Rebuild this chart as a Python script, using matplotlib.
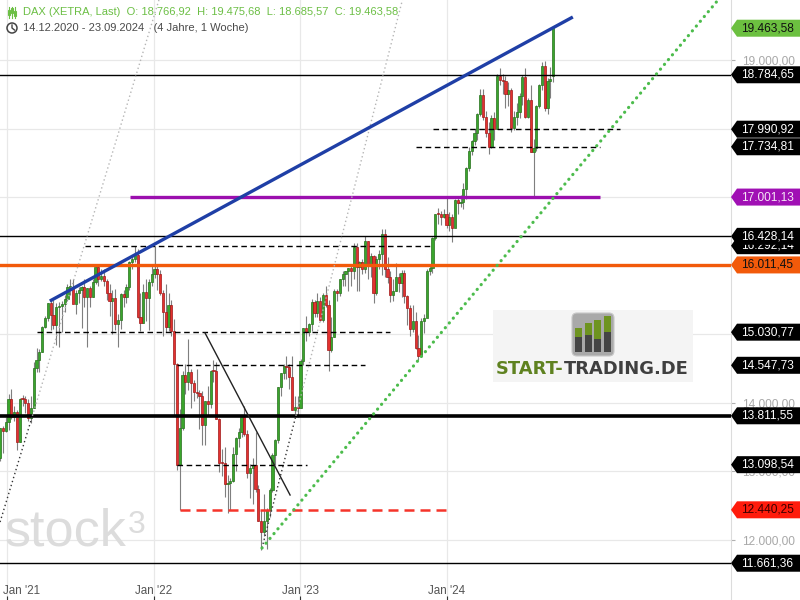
import numpy as np
import pandas as pd
import matplotlib
matplotlib.use('Agg')
import matplotlib.pyplot as plt
from matplotlib.patches import Polygon, Rectangle, Circle, FancyBboxPatch
from matplotlib.transforms import ScaledTranslation

plt.rcParams['font.family'] = ['Liberation Sans', 'DejaVu Sans']

# weekly DAX candles, 14.12.2020 - 23.09.2024
weeks = pd.date_range('2020-12-14', periods=198, freq='W-MON')
opens = [
    13200, 13630, 13587, 13719, 14050, 13788, 13873, 13432, 14056, 14050,
    13993, 13786, 13920, 14502, 14621, 14748, 15107, 15234, 15459, 15280,
    15136, 15400, 15416, 15437, 15520, 15692, 15693, 15448, 15607, 15650,
    15687, 15540, 15669, 15544, 15761, 15977, 15808, 15852, 15781, 15609,
    15490, 15531, 15156, 15206, 15587, 15543, 15688, 16054, 16094, 16160,
    15257, 15169, 15621, 15531, 15756, 15885, 15948, 15883, 15603, 15318,
    15100, 15425, 15042, 14567, 13094, 13628, 14413, 14306, 14446, 14283,
    14163, 14142, 14098, 13674, 14027, 13982, 14462, 14460, 13762, 13126,
    13118, 12813, 12833, 12864, 13254, 13484, 13573, 13795, 13544, 12971,
    13050, 13088, 12741, 12284, 12114, 12273, 12438, 12731, 13243, 13460,
    14224, 14431, 14541, 14529, 14371, 13893, 13940, 13924, 14610, 15086,
    15033, 15150, 15476, 15307, 15482, 15210, 15578, 15427, 14768, 14957,
    15629, 15598, 15807, 15882, 15922, 15961, 15918, 16275, 15984, 16051,
    15950, 16358, 15989, 16148, 15603, 16105, 16177, 16469, 15952, 15832,
    15575, 15632, 15840, 15741, 15893, 15558, 15387, 15070, 15187, 14798,
    14688, 15189, 15234, 15919, 15968, 16398, 16759, 16751, 16706, 16752,
    16594, 16705, 16555, 16961, 16918, 16926, 17117, 17419, 17678, 17814,
    17936, 18206, 18492, 18175, 17930, 17737, 18161, 18001, 18772, 18704,
    18693, 18498, 18557, 18002, 18164, 18235, 18475, 18748, 18171, 18418,
    17661, 17723, 18322, 18633, 18907, 18301, 18700, 18767]
highs = [
    13640, 13660, 13800, 14131, 14200, 13950, 13900, 14070, 14120, 14100,
    14050, 14100, 14600, 14800, 14790, 15120, 15270, 15460, 15500, 15500,
    15460, 15470, 15480, 15570, 15730, 15800, 15800, 15650, 15690, 15700,
    15810, 15670, 15700, 15810, 15980, 16030, 15950, 15950, 15810, 15740,
    15650, 15660, 15300, 15600, 15640, 15730, 16070, 16140, 16290, 16250,
    15600, 15740, 15800, 15800, 16000, 16285, 16000, 15940, 15640, 15740,
    15600, 15500, 15220, 14580, 13910, 14460, 14560, 14925, 14500, 14340,
    14500, 14190, 14170, 14030, 14250, 14480, 14630, 14590, 13780, 13330,
    13350, 12950, 12900, 13360, 13500, 13640, 13800, 13950, 13600, 13110,
    13190, 13570, 12800, 12440, 12670, 12470, 12760, 13270, 13470, 14230,
    14430, 14560, 14680, 14560, 14680, 14100, 14100, 14640, 15090, 15270,
    15170, 15520, 15500, 15600, 15540, 15600, 15710, 15500, 15250, 15660,
    15660, 15810, 15920, 15930, 15970, 15990, 16330, 16330, 16070, 16100,
    16430, 16360, 16180, 16160, 16140, 16230, 16530, 16530, 16120, 15930,
    15800, 16040, 15900, 15940, 15940, 15570, 15420, 15420, 15330, 14990,
    15240, 15300, 15950, 16030, 16420, 16760, 16840, 16800, 16820, 17000,
    16790, 16750, 16980, 17010, 17030, 17200, 17440, 17730, 17840, 18000,
    18230, 18570, 18570, 18250, 18100, 18200, 18240, 18790, 18890, 18790,
    18770, 18680, 18590, 18260, 18370, 18520, 18780, 18890, 18450, 18630,
    17850, 18350, 18650, 18970, 18990, 18740, 18900, 19476]
lows = [
    13150, 13270, 13580, 13600, 13770, 13740, 13310, 13430, 13950, 13850,
    13730, 13700, 13920, 14450, 14450, 14740, 15090, 15190, 15060, 15070,
    14850, 14820, 15030, 15330, 15480, 15570, 15450, 15290, 15450, 15090,
    15400, 14820, 15400, 15540, 15740, 15700, 15780, 15700, 15500, 15260,
    15000, 15060, 14820, 15080, 15400, 15450, 15650, 15950, 16060, 15240,
    15050, 15160, 15200, 15060, 15700, 15820, 15650, 15580, 14980, 15040,
    15050, 14980, 13810, 13020, 12439, 13600, 14130, 14190, 13930, 14030,
    14070, 13620, 13380, 13380, 13830, 13920, 14310, 13760, 12990, 12940,
    12620, 12390, 12440, 12840, 13010, 13360, 13500, 13520, 12900, 12610,
    12530, 12700, 12270, 11860, 12060, 11870, 12340, 12700, 13100, 13420,
    14100, 14350, 14350, 14200, 13890, 13790, 13790, 13930, 14550, 14900,
    14980, 15050, 15250, 15250, 15200, 15180, 15400, 14460, 14740, 14960,
    15480, 15560, 15700, 15710, 15630, 15710, 15800, 15630, 15630, 15880,
    15900, 15810, 15830, 15460, 15580, 15950, 15870, 15840, 15750, 15470,
    15480, 15630, 15610, 15550, 15460, 15140, 14980, 15030, 14790, 14630,
    14670, 15020, 15260, 15860, 15900, 16370, 16610, 16600, 16690, 16550,
    16500, 16350, 16560, 16750, 16850, 16820, 16980, 17380, 17610, 17760,
    17830, 18190, 18130, 17880, 17630, 17720, 17840, 17990, 18640, 18500,
    18300, 18330, 17950, 17980, 18050, 18160, 18340, 18150, 18160, 17660,
    17020, 17670, 18300, 18560, 18260, 18210, 18450, 18686]
closes = [
    13630, 13587, 13719, 14050, 13788, 13873, 13432, 14056, 14050, 13993,
    13786, 13920, 14502, 14621, 14748, 15107, 15234, 15459, 15280, 15136,
    15400, 15416, 15437, 15520, 15692, 15693, 15448, 15607, 15650, 15687,
    15540, 15669, 15544, 15761, 15977, 15808, 15852, 15781, 15609, 15490,
    15531, 15156, 15206, 15587, 15543, 15688, 16054, 16094, 16160, 15257,
    15169, 15621, 15531, 15756, 15885, 15948, 15883, 15603, 15318, 15100,
    15425, 15042, 14567, 13094, 13628, 14413, 14306, 14446, 14283, 14163,
    14142, 14098, 13674, 14027, 13982, 14462, 14460, 13762, 13126, 13118,
    12813, 12833, 12864, 13254, 13484, 13573, 13795, 13544, 12971, 13050,
    13088, 12741, 12284, 12114, 12273, 12438, 12731, 13243, 13460, 14224,
    14431, 14541, 14529, 14371, 13893, 13940, 13924, 14610, 15086, 15033,
    15150, 15476, 15307, 15482, 15210, 15578, 15427, 14768, 14957, 15629,
    15598, 15807, 15882, 15922, 15961, 15918, 16275, 15984, 16051, 15950,
    16358, 15989, 16148, 15603, 16105, 16177, 16469, 15952, 15832, 15575,
    15632, 15840, 15741, 15893, 15558, 15387, 15070, 15187, 14798, 14688,
    15189, 15234, 15919, 15968, 16398, 16759, 16751, 16706, 16752, 16594,
    16705, 16555, 16961, 16918, 16926, 17117, 17419, 17678, 17814, 17936,
    18206, 18492, 18175, 17930, 17737, 18161, 18001, 18772, 18704, 18693,
    18498, 18557, 18002, 18164, 18235, 18475, 18748, 18171, 18418, 17661,
    17723, 18322, 18633, 18907, 18301, 18700, 18720, 19464]

# horizontal levels: value, start, end (None = full width)
full_levels = [18784.65, 16428.14, 11661.36]
thick_level = 13811.55
orange_level = 16011.45
purple_level = (17001.13, '2021-11-03', '2025-01-17')
dashed_levels = [
    (17990.92, '2023-11-28', '2025-03-08'),
    (17734.81, '2023-10-17', '2025-01-17'),
    (16292.14, '2021-07-14', '2023-11-20'),
    (15030.77, '2021-03-16', '2023-08-12'),
    (14547.73, '2022-02-27', '2023-06-11'),
    (13098.54, '2022-02-27', '2023-01-18'),
]
red_level = (12440.25, '2022-03-07', '2024-01-02')

# trend lines: (date, value) end points
blue_trend = [('2021-04-17', 15485), ('2024-11-11', 19627)]
green_trend = [('2022-09-28', 11883), ('2025-11-08', 19875)]
black_trend = [('2022-05-09', 15019), ('2022-12-07', 12656)]
dotted_a = [('2020-12-14', 12262), ('2022-01-14', 19875)]
dotted_b = [('2022-09-28', 11883), ('2023-09-13', 19875)]

last_close = 19463.58
header = 'DAX (XETRA, Last)  O: 18.766,92  H: 19.475,68  L: 18.685,57  C: 19.463,58'
period = '14.12.2020 - 23.09.2024   (4 Jahre, 1 Woche)'
year_ticks = ['2021-01-01', '2022-01-01', '2023-01-01', '2024-01-01']
year_labels = ["Jan '21", "Jan '22", "Jan '23", "Jan '24"]
# axis labels that are not hidden behind a price tag
price_ticks = [12000, 13000, 14000, 19000]

ORIGIN = pd.Timestamp('2021-01-01')
Y0, Y1 = 11125, 19875


def d(s):
    return (pd.Timestamp(s) - ORIGIN).days


def de(v):
    return f'{v:,.2f}'.replace(',', 'X').replace('.', ',').replace('X', '.')


fig = plt.figure(figsize=(8, 6), dpi=100)
ax = fig.add_axes([0, 0, 731 / 800, 1])
ax.set_xlim(-18.2, 1804.3)
ax.set_ylim(Y0, Y1)

# grid / axes
ax.set_yticks(range(12000, 20000, 1000))
ax.set_yticklabels([de(v) if v in price_ticks else '' for v in range(12000, 20000, 1000)])
ax.yaxis.tick_right()
ax.tick_params(axis='y', length=3, color='#b0b0b0', labelcolor='#a8a8a8', labelsize=8.6, pad=5)
ax.set_xticks([d(s) for s in year_ticks])
ax.set_xticklabels(year_labels)
ax.tick_params(axis='x', direction='in', length=3, color='#333333', labelcolor='#555555',
               labelsize=8.4, pad=-10.5)
lab0 = ax.get_xticklabels()[0]
lab0.set_ha('left')
lab0.set_transform(lab0.get_transform() + ScaledTranslation(-0.04, 0, fig.dpi_scale_trans))
ax.grid(color='#e8e8e8', lw=0.9, zorder=0)
ax.set_axisbelow(True)
for s in ['top', 'left', 'bottom']:
    ax.spines[s].set_visible(False)
ax.spines['right'].set_color('#dcdcdc')

# candles
x = np.array([d(w) for w in weeks])
o, h, l, c = map(np.array, (opens, highs, lows, closes))
up = c >= o
ax.vlines(x, l, h, color='#7f7f7f', lw=0.8, zorder=2)
ax.bar(x[up], np.maximum(c - o, 15)[up], bottom=o[up], width=5.5,
       color='#3aa52c', edgecolor='#26701c', lw=0.5, zorder=3)
ax.bar(x[~up], np.maximum(o - c, 15)[~up], bottom=c[~up], width=5.5,
       color='#e3312f', edgecolor='#a01818', lw=0.5, zorder=3)

# levels
for v in full_levels:
    ax.axhline(v, color='black', lw=1.0, zorder=4)
ax.axhline(thick_level, color='black', lw=2.6, zorder=4)
ax.axhline(orange_level, color='#f25a0a', lw=2.4, zorder=4)
v, a, b = purple_level
ax.hlines(v, d(a), d(b), color='#9b0fae', lw=2.4, zorder=4)
for v, a, b in dashed_levels:
    ax.hlines(v, d(a), d(b), color='black', lw=1.0, linestyles=(0, (4, 2.6)), zorder=4)
v, a, b = red_level
ax.hlines(v, d(a), d(b), color='#f5342a', lw=1.8, linestyles=(0, (4, 2.4)), zorder=4)


# trend lines
def seg(pts):
    return [d(p[0]) for p in pts], [p[1] for p in pts]


ax.plot(*seg(blue_trend), color='#1f3fa6', lw=2.4, solid_capstyle='butt', zorder=5)
ax.plot(*seg(green_trend), color='#4cbc4c', lw=2.3, linestyle=(0, (0.05, 1.9)),
        dash_capstyle='round', zorder=5)
ax.plot(*seg(black_trend), color='#222222', lw=1.0, zorder=5)
for pts in (dotted_a, dotted_b):
    xs, ys = seg(pts)
    t = (thick_level - ys[0]) / (ys[1] - ys[0])
    xm = xs[0] + t * (xs[1] - xs[0])
    ax.plot([xs[0], xm], [ys[0], thick_level], color='#333333', lw=1.0,
            linestyle=(0, (1, 2)), zorder=4)
    ax.plot([xm, xs[1]], [thick_level, ys[1]], color='#b5b5b5', lw=1.0,
            linestyle=(0, (1, 2)), zorder=4)

# watermark stock3
fig.text(5 / 800, 1 - 545 / 600, 'stock', fontsize=37.5, color='#dcdcdc', va='baseline', zorder=1)
fig.text(128 / 800, 1 - 533 / 600, '3', fontsize=23, color='#dcdcdc', va='baseline', zorder=1)

# START-TRADING.DE logo
tr = fig.dpi_scale_trans


def P(px, py):
    return px / 100, (600 - py) / 100


fig.add_artist(Rectangle(P(493, 382), 2.0, 0.72, transform=tr, fc='#f4f4f4', ec='none', zorder=2))
fig.add_artist(FancyBboxPatch(P(573, 355), 0.40, 0.41, boxstyle='round,pad=0.01,rounding_size=0.05',
                              transform=tr, fc='#a9a9a9', ec='#c8c8c8', lw=0.8, zorder=2.1))
bar_x = [575, 585, 594, 604]
bar_top = [328, 323, 320, 316]
bar_mid = [337, 335, 339, 332]
for bx, bt, bm in zip(bar_x, bar_top, bar_mid):
    fig.add_artist(Rectangle(P(bx, 352), 0.07, (352 - bt) / 100, transform=tr, fc='#6e9420',
                             ec='none', zorder=2.2))
    fig.add_artist(Rectangle(P(bx, 352), 0.07, (352 - bm) / 100, transform=tr, fc='#454545',
                             ec='none', zorder=2.3))
t1 = fig.text(496 / 800, 1 - 369 / 600, 'START-', fontsize=12.9, fontweight='bold',
              family='DejaVu Sans', color='#5f8220', va='center', zorder=3)
fig.canvas.draw()
bb = t1.get_window_extent()
fig.text(bb.x1 / 800, 1 - 369 / 600, 'TRADING.DE', fontsize=12.9, fontweight='bold',
         family='DejaVu Sans', color='#3f3f3f', va='center', zorder=3)

# header
fig.text(23 / 800, 1 - 12 / 600, header, fontsize=8, color='#6cbf45', va='center')
fig.text(23 / 800, 1 - 28 / 600, period, fontsize=8, color='#4a4a4a', va='center')
for bx, b0, b1 in [(9, 10, 15), (12, 8, 13), (15, 11, 16)]:
    fig.add_artist(plt.Line2D([bx / 100] * 2, [(600 - 18) / 100, (600 - 7) / 100], transform=tr,
                              color='#6cbf45', lw=0.8))
    fig.add_artist(Rectangle(P(bx - 1.2, b1), 0.024, (b1 - b0) / 100, transform=tr,
                             fc='white', ec='#6cbf45', lw=0.8))
fig.add_artist(Circle(P(12, 28), 0.05, transform=tr, fill=False, ec='#444444', lw=1.1))
fig.add_artist(plt.Line2D([0.12, 0.12, 0.145], [5.75, 5.72, 5.70], transform=tr,
                          color='#444444', lw=1.0))

# price tags on the right axis (drawn in order, later ones on top)
tag_values = [16292.14, 18784.65, 17990.92, 17734.81, 16428.14, 15030.77, 14547.73,
              13811.55, 13098.54, 11661.36]
special_tags = [(last_close, '#6cc040', '#111111'), (17001.13, '#a010b4', '#f6e6f6'),
                (16011.45, '#f25a0a', '#111111'), (12440.25, '#ff1c0c', '#3a0000')]


def tag(v, bg, fg, z):
    yc = (v - Y0) / (Y1 - Y0) * 6.0
    hh = 0.085
    pts = [(7.31, yc), (7.37, yc + hh), (8.0, yc + hh), (8.0, yc - hh), (7.37, yc - hh)]
    fig.add_artist(Polygon(pts, closed=True, transform=tr, fc=bg, ec='none', zorder=z))
    fig.text(7.41 / 8, yc / 6, de(v), fontsize=8.6, color=fg, va='center', zorder=z + 0.5)


z = 6
for v in tag_values:
    tag(v, '#000000', '#ffffff', z)
    z += 1
for v, bg, fg in special_tags:
    tag(v, bg, fg, z)
    z += 1

fig.savefig('out.png', dpi=100)
